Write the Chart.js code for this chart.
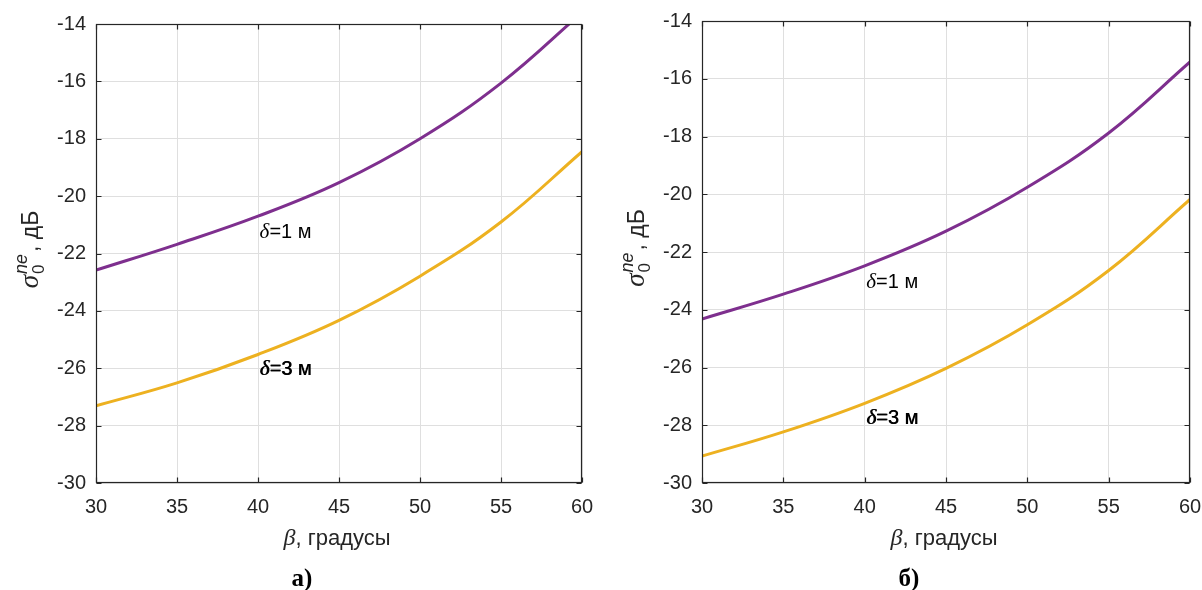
<!DOCTYPE html>
<html>
<head>
<meta charset="utf-8">
<script src="https://cdn.jsdelivr.net/npm/chart.js@4.4.1/dist/chart.umd.min.js"></script>
<style>
  html, body { margin: 0; padding: 0; background: #fff; overflow: hidden; }
  .panel { position: absolute; top: 0; height: 590px; }
</style>
</head>
<body>
<div class="panel" style="left:0;width:600px"><canvas id="chartA" width="600" height="590"></canvas></div>
<div class="panel" style="left:600px;width:602px"><canvas id="chartB" width="602" height="590"></canvas></div>
<script>
// угол бета, градусы
const beta = [30, 35, 40, 45, 50, 55, 60];

// панель а)
const sigmaA_d1 = [-22.58, -21.68, -20.70, -19.53, -18.00, -16.06, -13.60];
const sigmaA_d3 = [-27.31, -26.51, -25.52, -24.33, -22.79, -20.90, -18.45];

// панель б)
const sigmaB_d1 = [-24.32, -23.46, -22.48, -21.28, -19.76, -17.88, -15.42];
const sigmaB_d3 = [-29.07, -28.23, -27.24, -26.03, -24.52, -22.64, -20.18];

const curveTexts = ['=1 м', '=3 м'];
const panelNames = ['а)', 'б)'];
const xTitleText = ', градусы';
const yTitleText = ', дБ';

const SANS = '"Liberation Sans", Arial, sans-serif';
const SERIF = '"Liberation Serif", "Times New Roman", serif';
const PURPLE = '#7E2F8E';
const ORANGE = '#EDB120';
const AXIS = '#262626';

function pts(ys) {
  return beta.map((b, i) => ({ x: b, y: ys[i] }));
}

function drawYTitle(ctx, bx, cy) {
  ctx.save();
  ctx.translate(bx, cy);
  ctx.rotate(-Math.PI / 2);
  ctx.fillStyle = AXIS;
  ctx.textBaseline = 'alphabetic';
  ctx.textAlign = 'left';
  const fS = 'italic 27px ' + SERIF, fSub = '17px ' + SANS, fSup = 'italic 18px ' + SANS, fR = '23px ' + SANS;
  ctx.font = fS; const wS = ctx.measureText('σ').width;
  ctx.font = fSub; const wSub = ctx.measureText('0').width;
  ctx.font = fSup; const wSup = ctx.measureText('ne').width;
  ctx.font = fR; const wR = ctx.measureText(yTitleText).width;
  const total = wS + 1 + Math.max(wSub, wSup) + 2 + wR;
  let x0 = -total / 2;
  ctx.font = fS; ctx.fillText('σ', x0, 0); x0 += wS + 1;
  ctx.font = fSub; ctx.fillText('0', x0, 6);
  ctx.font = fSup; ctx.fillText('ne', x0, -11);
  x0 += Math.max(wSub, wSup) + 2;
  ctx.font = fR; ctx.fillText(yTitleText, x0, 0);
  ctx.restore();
}

function drawXTitle(ctx, cx, by) {
  ctx.save();
  ctx.fillStyle = AXIS;
  ctx.textBaseline = 'alphabetic';
  ctx.textAlign = 'left';
  const fB = 'italic 24px ' + SERIF, fR = '22px ' + SANS;
  ctx.font = fB; const wB = ctx.measureText('β').width;
  ctx.font = fR; const wR = ctx.measureText(xTitleText).width;
  let x0 = cx - (wB + wR) / 2;
  ctx.font = fB; ctx.fillText('β', x0, by);
  ctx.font = fR; ctx.fillText(xTitleText, x0 + wB, by);
  ctx.restore();
}

function drawCurveLabel(ctx, x, y, text, heavy) {
  ctx.save();
  ctx.fillStyle = '#000';
  ctx.textBaseline = 'alphabetic';
  ctx.textAlign = 'left';
  ctx.font = 'italic 21px ' + SERIF;
  const wd = ctx.measureText('δ').width;
  const passes = heavy ? [0, 0.6] : [0];
  passes.forEach(dx => {
    ctx.font = 'italic 21px ' + SERIF;
    ctx.fillText('δ', x + dx, y);
    ctx.font = '20px ' + SANS;
    ctx.fillText(text, x + wd + dx, y);
  });
  ctx.restore();
}

const matlabAxes = {
  id: 'matlabAxes',
  afterDatasetsDraw(chart) {
    const { ctx, chartArea: a, scales: { x, y } } = chart;
    const L = Math.round(a.left) + 0.5, R = Math.round(a.right) - 0.5;
    const T = Math.round(a.top) + 0.5, B = Math.round(a.bottom) - 0.5;
    ctx.save();
    ctx.strokeStyle = AXIS;
    ctx.lineWidth = 1.2;
    ctx.beginPath();
    x.ticks.forEach(t => {
      const px = Math.round(x.getPixelForValue(t.value)) + 0.5;
      ctx.moveTo(px, B); ctx.lineTo(px, B - 5);
      ctx.moveTo(px, T); ctx.lineTo(px, T + 5);
    });
    y.ticks.forEach(t => {
      const py = Math.round(y.getPixelForValue(t.value)) + 0.5;
      ctx.moveTo(L, py); ctx.lineTo(L + 5, py);
      ctx.moveTo(R, py); ctx.lineTo(R - 5, py);
    });
    ctx.stroke();
    ctx.strokeRect(L, T, R - L, B - T);
    ctx.restore();
  },
  afterDraw(chart) {
    const { ctx, chartArea: a, scales: { x, y } } = chart;
    const o = chart.options.plugins.matlabAxes;
    o.labels.forEach((p, i) => {
      drawCurveLabel(ctx, x.getPixelForValue(p[0]), y.getPixelForValue(p[1]), curveTexts[i], i === 1);
    });
    drawYTitle(ctx, a.left - 58, (a.top + a.bottom) / 2 - 4);
    drawXTitle(ctx, (a.left + a.right) / 2 - 2, 545);
    ctx.save();
    ctx.fillStyle = '#000';
    ctx.font = 'bold 25px ' + SERIF;
    ctx.textAlign = 'center';
    ctx.textBaseline = 'alphabetic';
    ctx.fillText(o.name, (a.left + a.right) / 2 - 37, 586);
    ctx.restore();
  }
};

function makeChart(id, d1, d3, lay, labels, name) {
  return new Chart(document.getElementById(id), {
    type: 'line',
    data: {
      datasets: [
        { data: pts(d1), borderColor: PURPLE, borderWidth: 3, pointRadius: 0, tension: 0.4, clip: 0 },
        { data: pts(d3), borderColor: ORANGE, borderWidth: 3, pointRadius: 0, tension: 0.4, clip: 0 }
      ]
    },
    options: {
      responsive: false,
      animation: false,
      devicePixelRatio: 1,
      layout: { padding: { top: lay.top, right: lay.right, left: 0, bottom: 0 } },
      plugins: {
        legend: { display: false },
        tooltip: { enabled: false },
        matlabAxes: { labels: labels, name: name }
      },
      scales: {
        x: {
          type: 'linear', min: 30, max: 60,
          ticks: { stepSize: 5, padding: 12, color: AXIS, font: { family: SANS, size: 20 }, maxRotation: 0 },
          grid: { color: '#dfdfdf', drawTicks: false },
          border: { display: false },
          afterFit(s) { s.height = 107; s.paddingLeft = 0; s.paddingRight = 0; }
        },
        y: {
          type: 'linear', min: -30, max: -14,
          ticks: { stepSize: 2, padding: 10, color: AXIS, font: { family: SANS, size: 20 } },
          grid: { color: '#dfdfdf', drawTicks: false },
          border: { display: false },
          afterFit(s) { s.width = lay.yw; s.paddingTop = 0; s.paddingBottom = 0; }
        }
      }
    },
    plugins: [matlabAxes]
  });
}

makeChart('chartA', sigmaA_d1, sigmaA_d3, { top: 24, right: 18, yw: 96 },
  [[40.1, -21.45], [40.1, -26.25]], panelNames[0]);
makeChart('chartB', sigmaB_d1, sigmaB_d3, { top: 21, right: 12, yw: 102 },
  [[40.1, -23.25], [40.1, -27.97]], panelNames[1]);
</script>
</body>
</html>
